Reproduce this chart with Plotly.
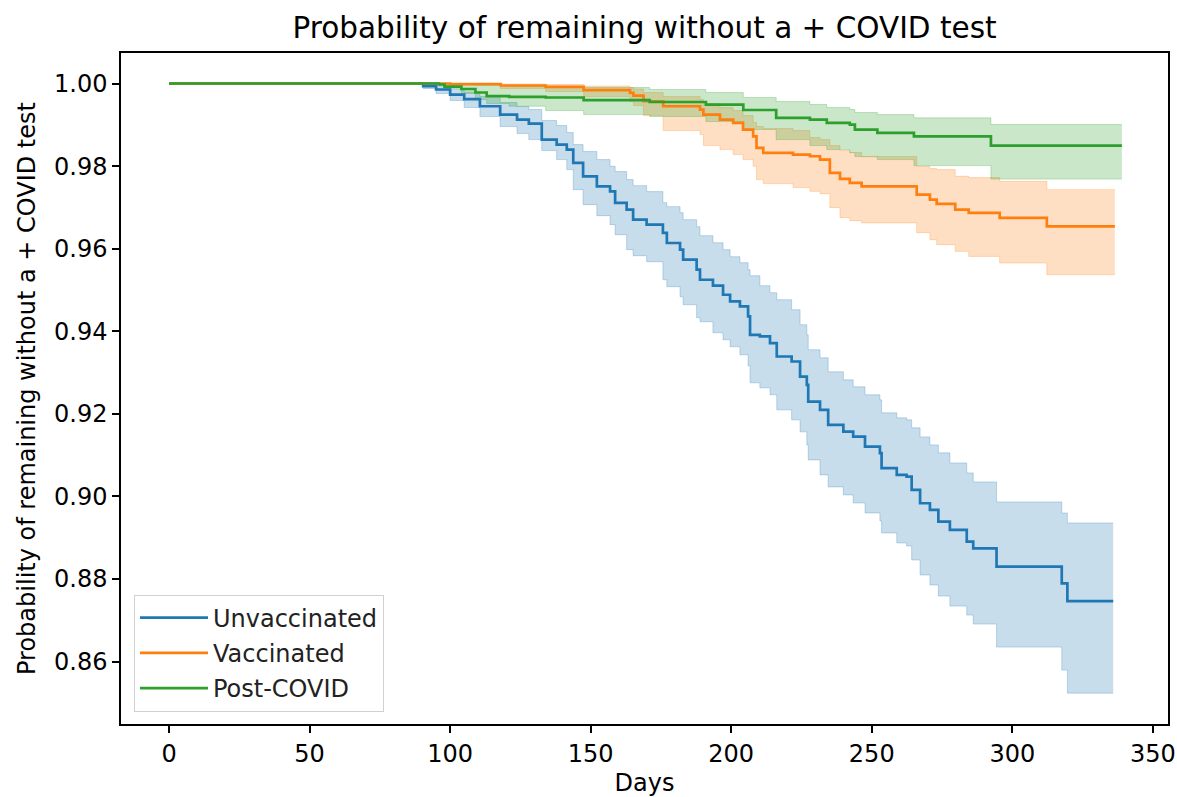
import plotly.graph_objects as go

# ---------------- data ----------------
title_text = "Probability of remaining without a + COVID test"
x_label = "Days"
y_label = "Probability of remaining without a + COVID test"
series_names = ["Unvaccinated", "Vaccinated", "Post-COVID"]

x_ticks = [0, 50, 100, 150, 200, 250, 300, 350]
y_ticks = [0.86, 0.88, 0.90, 0.92, 0.94, 0.96, 0.98, 1.00]

days_unvax = [0, 90.4, 95, 100, 105, 110.6, 117.8, 123.8, 128, 132.6,
              137.9, 141.5, 143.8, 147.3, 152.2, 156.9, 158.7, 162.8, 165.1, 169.9,
              175.7, 177.1, 181.8, 182.9, 187.7, 188.9, 193.5, 197.1, 199.6, 203.1,
              206, 206.7, 210.2, 213.8, 216.2, 221.5, 224.5, 226.9, 227.4, 231.6,
              234.5, 239.9, 243.4, 247.6, 252.9, 253.5, 258.9, 262.4, 264.2, 267.2,
              270.7, 273.7, 277.8, 283.8, 286.1, 294.4, 317.6, 319.6, 335.9]
surv_unvax = [1.0, 0.99935, 0.99855, 0.99733, 0.99624, 0.99450, 0.99248, 0.99127, 0.99030, 0.98642,
              0.98521, 0.98400, 0.98078, 0.97753, 0.97510, 0.97389, 0.97108, 0.96945, 0.96703, 0.96582,
              0.96381, 0.96138, 0.95976, 0.95733, 0.95491, 0.95248, 0.95103, 0.94885, 0.94722, 0.94601,
              0.94359, 0.93915, 0.93874, 0.93714, 0.93389, 0.93268, 0.92904, 0.92703, 0.92298, 0.92097,
              0.91733, 0.91571, 0.91450, 0.91207, 0.91047, 0.90684, 0.90521, 0.90480, 0.90158, 0.89835,
              0.89673, 0.89389, 0.89188, 0.88904, 0.88744, 0.88298, 0.87896, 0.87467, 0.87467]
upper_unvax = [1.0, 0.99976, 0.99939, 0.99855, 0.99794, 0.99685, 0.99539, 0.99442, 0.99370, 0.99103,
               0.98982, 0.98812, 0.98521, 0.98352, 0.98158, 0.97995, 0.97867, 0.97673, 0.97527, 0.97382,
               0.97115, 0.97018, 0.96873, 0.96703, 0.96533, 0.96315, 0.96145, 0.95976, 0.95806, 0.95661,
               0.95491, 0.95345, 0.95103, 0.94933, 0.94764, 0.94521, 0.94158, 0.93915, 0.93552, 0.93358,
               0.93018, 0.92824, 0.92655, 0.92461, 0.92339, 0.92024, 0.91903, 0.91855, 0.91661, 0.91442,
               0.91248, 0.91055, 0.90812, 0.90570, 0.90352, 0.89867, 0.89600, 0.89358, 0.89358]
lower_unvax = [1.0, 0.99879, 0.99758, 0.99588, 0.99418, 0.99200, 0.98958, 0.98788, 0.98642, 0.98376,
               0.98158, 0.97915, 0.97430, 0.97067, 0.96800, 0.96582, 0.96339, 0.95976, 0.95830, 0.95685,
               0.95248, 0.95079, 0.94836, 0.94642, 0.94327, 0.94230, 0.93964, 0.93794, 0.93624, 0.93430,
               0.93164, 0.92752, 0.92630, 0.92461, 0.92097, 0.91855, 0.91564, 0.91248, 0.90885, 0.90521,
               0.90230, 0.90036, 0.89842, 0.89600, 0.89406, 0.89115, 0.88873, 0.88800, 0.88461, 0.88097,
               0.87855, 0.87588, 0.87345, 0.87127, 0.86909, 0.86352, 0.85794, 0.85236, 0.85236]

days_vax = [0, 100, 118, 134, 147.5, 164, 165.2, 168.8, 175.8, 188.9,
            190.1, 196, 200.7, 204.2, 207.8, 209, 211.4, 222, 228, 231.6,
            235.1, 238.7, 242.2, 246.4, 266, 270.7, 273.1, 279.7, 284.5, 295.5,
            312.3, 336.5]
surv_vax = [1.0, 0.99988, 0.99952, 0.99920, 0.99838, 0.99775, 0.99709, 0.99571, 0.99450, 0.99370,
            0.99248, 0.99127, 0.99047, 0.98885, 0.98722, 0.98441, 0.98320, 0.98279, 0.98238, 0.98158,
            0.97835, 0.97689, 0.97592, 0.97510, 0.97309, 0.97188, 0.97084, 0.96945, 0.96865, 0.96744,
            0.96541, 0.96541]
upper_vax = [1.0, 1.0, 0.99988, 0.99976, 0.99939, 0.99903, 0.99867, 0.99782, 0.99685, 0.99612,
             0.99515, 0.99418, 0.99345, 0.99224, 0.99055, 0.98958, 0.98909, 0.98861, 0.98691, 0.98642,
             0.98497, 0.98376, 0.98327, 0.98230, 0.97995, 0.97939, 0.97915, 0.97753, 0.97721, 0.97631,
             0.97430, 0.97430]
lower_vax = [1.0, 0.99952, 0.99879, 0.99806, 0.99685, 0.99564, 0.99467, 0.99224, 0.98861, 0.98764,
             0.98497, 0.98400, 0.98279, 0.98158, 0.97995, 0.97673, 0.97576, 0.97479, 0.97389, 0.97333,
             0.96994, 0.96752, 0.96679, 0.96624, 0.96388, 0.96218, 0.96097, 0.95935, 0.95813, 0.95653,
             0.95370, 0.95370]

days_post = [0, 96, 98, 104, 109, 113, 121, 134, 147.5, 171,
             191, 204.3, 216, 228, 234, 242.2, 244, 252, 265, 292.4, 339]
surv_post = [1.0, 0.99976, 0.99927, 0.99867, 0.99782, 0.99697, 0.99678, 0.99661, 0.99600, 0.99552,
             0.99491, 0.99358, 0.99168, 0.99127, 0.99047, 0.99006, 0.98885, 0.98805, 0.98722, 0.98497,
             0.98497]
upper_post = [1.0, 1.0, 0.99988, 0.99976, 0.99964, 0.99952, 0.99939, 0.99927, 0.99903, 0.99855,
              0.99782, 0.99661, 0.99564, 0.99491, 0.99418, 0.99370, 0.99297, 0.99248, 0.99168, 0.99006,
              0.99006]
lower_post = [1.0, 0.99952, 0.99879, 0.99758, 0.99612, 0.99515, 0.99450, 0.99345, 0.99248, 0.99200,
              0.99079, 0.98885, 0.98642, 0.98497, 0.98400, 0.98327, 0.98230, 0.98158, 0.98012, 0.97685,
              0.97685]

# ---------------- styling ----------------
line_colors = ["#1f77b4", "#ff7f0e", "#2ca02c"]
band_colors = ["rgba(31,119,180,0.25)", "rgba(255,127,14,0.25)", "rgba(44,160,44,0.25)"]
FONT = "DejaVu Sans, Liberation Sans, sans-serif"
FS = 24

all_days = [days_unvax, days_vax, days_post]
all_surv = [surv_unvax, surv_vax, surv_post]
all_up = [upper_unvax, upper_vax, upper_post]
all_lo = [lower_unvax, lower_vax, lower_post]

fig = go.Figure()

# confidence bands
for i in range(3):
    fig.add_trace(go.Scatter(x=all_days[i], y=all_lo[i], mode="lines", line_shape="hv",
                             line=dict(color=band_colors[i], width=1),
                             showlegend=False, hoverinfo="skip"))
    fig.add_trace(go.Scatter(x=all_days[i], y=all_up[i], mode="lines", line_shape="hv",
                             line=dict(color=band_colors[i], width=1),
                             fill="tonexty", fillcolor=band_colors[i],
                             showlegend=False, hoverinfo="skip"))

# survival curves
for i in range(3):
    fig.add_trace(go.Scatter(x=all_days[i], y=all_surv[i], mode="lines", line_shape="hv",
                             line=dict(color=line_colors[i], width=2.7),
                             name=series_names[i], legendgroup=series_names[i]))

axis_common = dict(showline=True, linecolor="black", linewidth=1.5, mirror=True,
                   ticks="outside", ticklen=7, tickwidth=1.5, tickcolor="black",
                   showgrid=False, zeroline=False, automargin=False,
                   tickfont=dict(family=FONT, size=FS, color="black"),
                   title_font=dict(family=FONT, size=FS, color="black"))

fig.update_layout(
    width=1177, height=797,
    margin=dict(l=121, r=9, t=53, b=73, autoexpand=False),
    paper_bgcolor="white", plot_bgcolor="white",
    font=dict(family=FONT, size=FS, color="black"),
    title=dict(text=title_text, x=0.5, xref="paper", xanchor="center",
               y=1 - 28 / 797, yanchor="middle",
               font=dict(family=FONT, size=29.5, color="black")),
    xaxis=dict(range=[-17.1, 355.4], tickvals=x_ticks, title=dict(text=x_label, standoff=8),
               **axis_common),
    yaxis=dict(range=[0.84489, 1.00739], tickvals=y_ticks, tickformat=".2f",
               title=dict(text=y_label, standoff=12), **axis_common),
    legend=dict(x=0.0124, y=0.0185, xanchor="left", yanchor="bottom",
                bgcolor="rgba(255,255,255,0.8)", bordercolor="#d0d0d0", borderwidth=1,
                font=dict(family=FONT, size=FS, color="#222222"),
                tracegroupgap=1, traceorder="grouped", itemwidth=68,
                entrywidth=263, entrywidthmode="pixels"),
    showlegend=True,
)

fig.write_html("out.html", config={"displayModeBar": False},
               post_script="document.body.style.margin='0';document.body.style.padding='0';")
